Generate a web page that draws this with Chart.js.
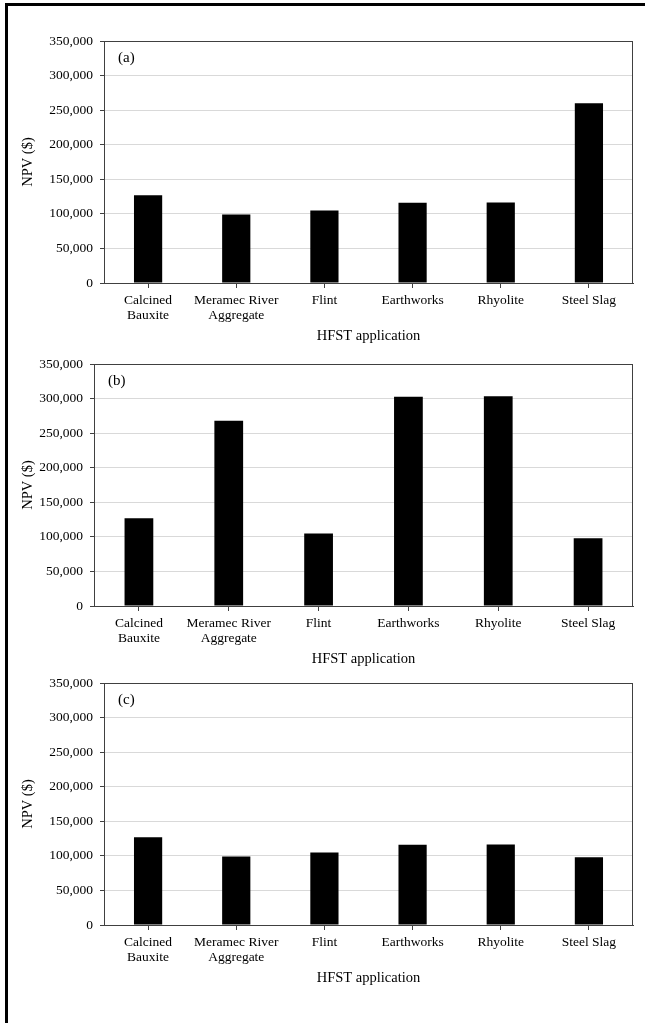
<!DOCTYPE html>
<html>
<head>
<meta charset="utf-8">
<script src="https://cdn.jsdelivr.net/npm/chart.js@4.4.1/dist/chart.umd.min.js"></script>
<style>
  html, body { margin: 0; padding: 0; background: #fff; }
  body { width: 645px; height: 1023px; position: relative; overflow: hidden; }
  .frame { position: absolute; left: 5px; top: 3px; width: 700px; height: 1100px;
           border-top: 3px solid #000; border-left: 3px solid #000; }
  .panel { position: absolute; left: 8px; width: 637px; height: 340px; }
</style>
</head>
<body>
<div class="frame"></div>
<div class="panel" style="top:20px"><canvas id="chartA"></canvas></div>
<div class="panel" style="top:343px"><canvas id="chartB"></canvas></div>
<div class="panel" style="top:662px"><canvas id="chartC"></canvas></div>
<script>
// HFST aggregate options
const categories = [
  ['Calcined', 'Bauxite'],
  ['Meramec River', 'Aggregate'],
  'Flint',
  'Earthworks',
  'Rhyolite',
  'Steel Slag'
];

// Net present value ($) per scenario
const npvA = [127000, 99000, 105000, 116000, 116500, 260000];
const npvB = [127000, 268000, 105000, 302500, 303500, 98000];
const npvC = [127000, 99000, 105000, 116000, 116500, 98000];

const yTicks = [0, 50000, 100000, 150000, 200000, 250000, 300000, 350000];
const panelLabels = ['(a)', '(b)', '(c)'];
const xTitle = 'HFST application';
const yTitle = 'NPV ($)';

const SERIF = '"Liberation Serif", "Times New Roman", serif';
const fmt = new Intl.NumberFormat('en-US');

// Plot-area outline plus the panel letter in the upper-left corner
const framePlugin = {
  id: 'frameAndTag',
  afterDraw(chart, args, opts) {
    const { ctx, chartArea: a } = chart;
    ctx.save();
    ctx.strokeStyle = '#404040';
    ctx.lineWidth = 1;
    ctx.strokeRect(Math.round(a.left) + 0.5, Math.round(a.top) + 0.5,
                   Math.round(a.right - a.left) - 1, Math.round(a.bottom - a.top));
    ctx.fillStyle = '#000';
    ctx.font = '15px ' + SERIF;
    ctx.textBaseline = 'middle';
    ctx.textAlign = 'left';
    ctx.fillText(opts.text, a.left + 14, a.top + 17);
    ctx.restore();
  }
};

function makeChart(id, values, tag, yWidth) {
  return new Chart(document.getElementById(id), {
    type: 'bar',
    data: {
      labels: categories,
      datasets: [{
        data: values,
        backgroundColor: '#000',
        borderColor: '#000',
        borderWidth: 0,
        barPercentage: 0.32,
        categoryPercentage: 1.0
      }]
    },
    options: {
      responsive: true,
      maintainAspectRatio: false,
      animation: false,
      devicePixelRatio: 1,
      layout: { padding: { top: 21, right: 12, bottom: 0, left: 0 } },
      plugins: {
        legend: { display: false },
        tooltip: { enabled: false },
        frameAndTag: { text: tag }
      },
      scales: {
        x: {
          offset: true,
          grid: {
            offset: false,
            drawOnChartArea: false,
            drawTicks: true,
            tickLength: 5,
            tickColor: '#404040'
          },
          border: { display: true, color: '#404040', width: 1 },
          ticks: {
            color: '#000',
            padding: 4.5,
            maxRotation: 0,
            autoSkip: false,
            font: { family: SERIF, size: 13.5, lineHeight: 1.11 }
          },
          title: {
            display: true,
            text: xTitle,
            color: '#000',
            font: { family: SERIF, size: 14.5, lineHeight: 1.2 },
            padding: { top: 0, bottom: 14.8 }
          },
          afterFit(scale) { scale.height = 77; }
        },
        y: {
          min: 0,
          max: 350000,
          afterBuildTicks(scale) { scale.ticks = yTicks.map(v => ({ value: v })); },
          grid: {
            color: '#d9d9d9',
            lineWidth: 1,
            drawTicks: true,
            tickLength: 4,
            tickColor: '#404040'
          },
          border: { display: true, color: '#000', width: 1 },
          ticks: {
            color: '#000',
            padding: 7,
            font: { family: SERIF, size: 13.5 },
            callback: v => fmt.format(v)
          },
          title: {
            display: true,
            text: yTitle,
            color: '#000',
            font: { family: SERIF, size: 14.5, lineHeight: 1.2 },
            padding: { top: 11.5, bottom: 0 }
          },
          afterFit(scale) { scale.width = yWidth; }
        }
      }
    },
    plugins: [framePlugin]
  });
}

makeChart('chartA', npvA, panelLabels[0], 96);
makeChart('chartB', npvB, panelLabels[1], 86);
makeChart('chartC', npvC, panelLabels[2], 96);
</script>
</body>
</html>
